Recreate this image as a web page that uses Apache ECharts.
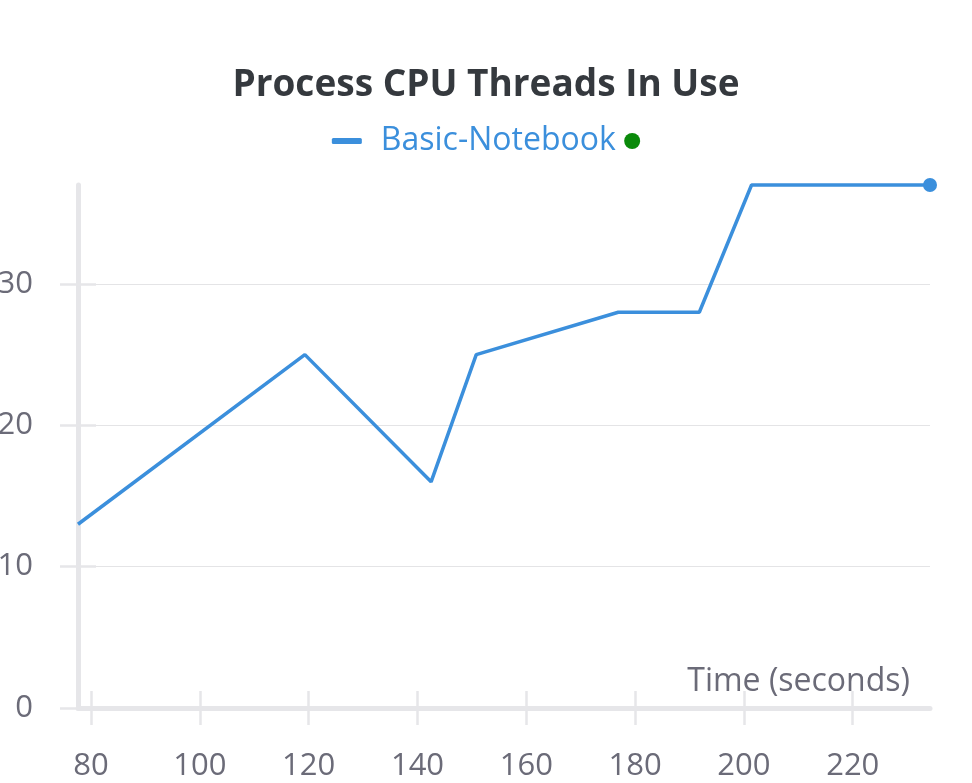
<!DOCTYPE html>
<html>
<head>
<meta charset="utf-8">
<script src="https://cdn.jsdelivr.net/npm/echarts@6/dist/echarts.min.js"></script>
<style>
html,body{margin:0;padding:0;background:#fff;}
#chart{width:972px;height:783px;}
</style>
</head>
<body>
<div id="chart"></div>
<script>
// ---- data ----
const seriesName = 'Basic-Notebook';
const timeSeconds = [77.6, 119.3, 142.5, 150.8, 176.9, 191.8, 201.4, 234.2];
const threadsInUse = [13, 25, 16, 25, 28, 28, 37, 37];
const xTicks = [80, 100, 120, 140, 160, 180, 200, 220];
const yTicks = [0, 10, 20, 30];
const xRange = [77.6, 234.2];
const yRange = [0, 37];

const FONT = '"Open Sans"';
const LINE = '#3b8fdc';
const AXIS = '#e6e6e9';
const LABEL = '#6b6b78';

const points = timeSeconds.map((t, i) => [t, threadsInUse[i]]);
const lastIdx = points.length - 1;

const chart = echarts.init(document.getElementById('chart'), null, {renderer: 'canvas'});
chart.setOption({
  animation: false,
  backgroundColor: '#fff',
  title: {
    text: 'Process CPU Threads In Use',
    left: 'center',
    top: 62,
    textStyle: {fontFamily: FONT, fontSize: 37, fontWeight: 'bold', color: '#35393e'}
  },
  legend: {
    top: 120,
    left: 'center',
    icon: 'roundRect',
    itemWidth: 30,
    itemHeight: 6,
    itemGap: 10,
    formatter: name => '{t|' + name + '} {g|}',
    textStyle: {
      fontFamily: FONT, fontSize: 32, color: LINE,
      rich: {
        t: {fontFamily: FONT, fontSize: 32, color: LINE, padding: [0, 0, 0, 14]},
        g: {width: 16, height: 16, borderRadius: 8, backgroundColor: '#0a8a0a'}
      }
    },
    data: [seriesName]
  },
  grid: {left: 78, right: 42, top: 185, bottom: 75, containLabel: false, outerBoundsMode: 'none'},
  xAxis: [{
    type: 'value',
    min: xRange[0], max: xRange[1],
    name: 'Time (seconds)',
    nameLocation: 'end',
    nameGap: -20,
    nameTextStyle: {fontFamily: FONT, fontSize: 32, color: LABEL, align: 'right', verticalAlign: 'bottom', padding: [0, 0, 10, 0]},
    axisLine: {show: true, onZero: false, lineStyle: {color: AXIS, width: 5}},
    axisTick: {show: true, length: 17, customValues: xTicks, lineStyle: {color: AXIS, width: 2.5}},
    axisLabel: {customValues: xTicks, fontFamily: FONT, fontSize: 31, color: LABEL, margin: 43},
    splitLine: {show: false}
  }, {
    type: 'value',
    min: xRange[0], max: xRange[1],
    position: 'bottom',
    axisLine: {show: false},
    axisTick: {show: true, inside: true, length: 17, customValues: xTicks, lineStyle: {color: AXIS, width: 2.5}},
    axisLabel: {show: false},
    splitLine: {show: false}
  }],
  yAxis: [{
    type: 'value',
    min: yRange[0], max: yRange[1],
    axisLine: {show: true, onZero: false, lineStyle: {color: AXIS, width: 5}},
    axisTick: {show: true, length: 18, customValues: yTicks, lineStyle: {color: AXIS, width: 2.5}},
    axisLabel: {customValues: yTicks, fontFamily: FONT, fontSize: 31, color: LABEL, margin: 45},
    splitLine: {show: true, lineStyle: {color: '#e4e4e6', width: 1}}
  }, {
    type: 'value',
    min: yRange[0], max: yRange[1],
    position: 'left',
    axisLine: {show: false},
    axisTick: {show: true, inside: true, length: 18, customValues: yTicks, lineStyle: {color: AXIS, width: 2.5}},
    axisLabel: {show: false},
    splitLine: {show: false}
  }],
  series: [{
    name: seriesName,
    type: 'line',
    data: points,
    xAxisIndex: 0,
    yAxisIndex: 0,
    showSymbol: true,
    showAllSymbol: true,
    symbol: (v, p) => p.dataIndex === lastIdx ? 'circle' : 'none',
    symbolSize: 14,
    itemStyle: {color: LINE},
    lineStyle: {color: LINE, width: 3.5},
    clip: false
  }]
});
</script>
</body>
</html>
